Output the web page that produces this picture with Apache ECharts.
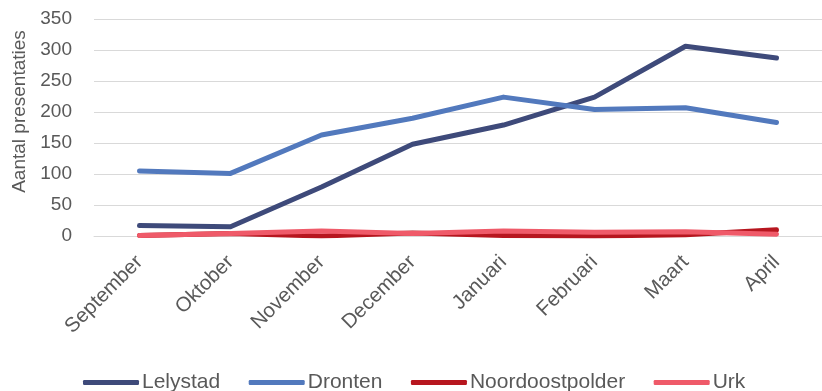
<!DOCTYPE html>
<html>
<head>
<meta charset="utf-8">
<script src="https://cdn.jsdelivr.net/npm/echarts@6/dist/echarts.min.js"></script>
<style>html,body{margin:0;padding:0;background:#fff}#c{width:822px;height:391px}</style>
</head>
<body>
<div id="c"></div>
<script>
var categories = ['September','Oktober','November','December','Januari','Februari','Maart','April'];
var lelystad = [17, 15, 79, 148, 179, 224, 306, 287];
var dronten = [105, 101, 163, 190, 224, 204, 207, 183];
var noordoostpolder = [1, 4, 0, 5, 1, 0, 2, 10];
var urk = [1, 4, 8, 4, 8, 6, 7, 3];
var seriesNames = ['Lelystad','Dronten','Noordoostpolder','Urk'];
var colors = ['#3E4A7A','#5279BD','#B7161F','#EF5A69'];
var yTicks = {min: 0, max: 350, interval: 50};

var font = 'Liberation Sans, Arial, sans-serif';
var txt = '#595959';
var chart = echarts.init(document.getElementById('c'));
var dataSets = [lelystad, dronten, noordoostpolder, urk];
chart.setOption({
  animation: false,
  color: colors,
  grid: {left: 94, right: -4, top: 19, bottom: 155, containLabel: false},
  legend: {
    data: seriesNames,
    left: 78, top: 367,
    icon: 'roundRect',
    itemWidth: 56, itemHeight: 5, itemGap: 28.5,
    textStyle: {fontFamily: font, fontSize: 21, color: txt, padding: [0,0,0,-2]}
  },
  xAxis: {
    type: 'category',
    data: categories,
    boundaryGap: true,
    axisLine: {show: true, lineStyle: {color: '#d9d9d9', width: 1}},
    axisTick: {show: false},
    axisLabel: {rotate: 45, margin: 23, fontFamily: font, fontSize: 20.5, color: txt, interval: 0}
  },
  yAxis: {
    type: 'value',
    min: yTicks.min, max: yTicks.max, interval: yTicks.interval,
    name: 'Aantal presentaties',
    nameLocation: 'middle',
    nameGap: 63,
    nameTextStyle: {fontFamily: font, fontSize: 19, color: txt, padding: [0,0,0,32]},
    axisLine: {show: false},
    axisTick: {show: false},
    splitLine: {lineStyle: {color: '#d9d9d9', width: 1}},
    axisLabel: {margin: 22, fontFamily: font, fontSize: 19, color: txt}
  },
  series: seriesNames.map(function(n, i){
    return {
      name: n, type: 'line', data: dataSets[i],
      symbol: 'none', smooth: false,
      lineStyle: {width: 5, color: colors[i], cap: 'round', join: 'round'}
    };
  })
});
</script>
</body>
</html>
